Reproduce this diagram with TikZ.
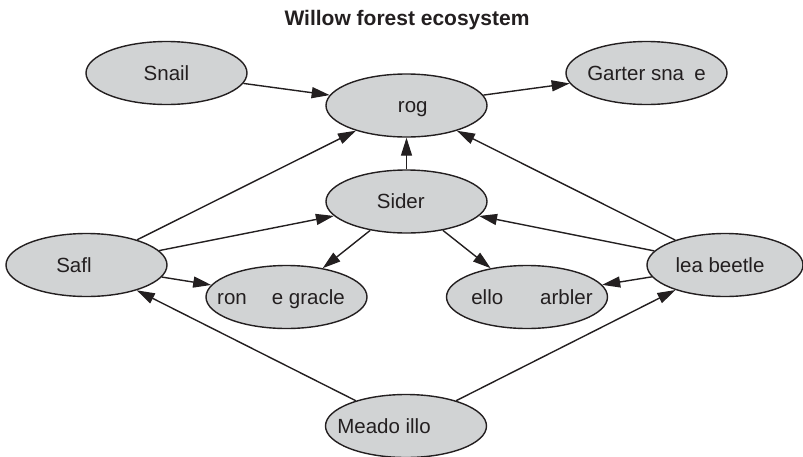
\documentclass[tikz,border=0pt]{standalone}
\usepackage{fontspec}
\setmainfont{Liberation Sans}
\usetikzlibrary{shapes.geometric,arrows.meta}
\definecolor{inkc}{HTML}{231F20}
\definecolor{nodefill}{HTML}{D1D3D4}
% zero-width label box, so the text never widens an ellipse
\newcommand\ecotext[1]{\makebox[0pt]{#1}}
\begin{document}
\begin{tikzpicture}[x=1pt,y=-1pt,
  species/.style={ellipse, draw=inkc, fill=nodefill, line width=1.4pt,
    minimum width=161pt, minimum height=63pt, inner sep=0pt,
    text height=14pt, text depth=0pt, text=inkc,
    font=\fontsize{20.5}{24}\selectfont},
  feeds/.style={draw=inkc, line width=1.4pt,
    -{Triangle[length=18pt,width=11pt]}}]
\useasboundingbox (0,0) rectangle (803,456);

\node[font=\bfseries\fontsize{21}{25}\selectfont, text=inkc, anchor=base]
  (title) at (407,25) {Willow forest ecosystem};

% species
\node[species] (snail)   at (166.5,73)   {\ecotext{Snail}};
\node[species] (frog)    at (406.5,105.5) {\ecotext{\phantom{F}rog}};
\node[species] (garter)  at (646.5,73)   {\ecotext{Garter sna\phantom{k}e}};
\node[species] (spider)  at (406.5,201.5) {\ecotext{Sider\phantom{p}}};
\node[species] (sawfly)  at (86.5,265)   {\ecotext{Safl\phantom{wy}}};
\node[species, minimum width=156pt] (leaf) at (725,265) {\ecotext{lea beetle\kern10pt}};
\node[species] (grackle) at (286.5,297)  {\ecotext{ron\hspace{25pt}e gracle\kern11pt}};
\node[species] (warbler) at (527,297)    {\ecotext{\kern10pt ello\hspace{37pt}arbler}};
\node[species] (willow)  at (406,426)    {\ecotext{Meado illo\kern44pt}};

% who eats whom
\draw[feeds] (snail)  -- (frog);
\draw[feeds] (frog)   -- (garter);
\draw[feeds] (sawfly) -- (frog);
\draw[feeds] (sawfly) -- (spider);
\draw[feeds] (sawfly) -- (grackle);
\draw[feeds] (spider) -- (frog);
\draw[feeds] (spider) -- (grackle);
\draw[feeds] (spider) -- (warbler);
\draw[feeds] (leaf)   -- (frog);
\draw[feeds] (leaf)   -- (spider);
\draw[feeds] (leaf)   -- (warbler);
\draw[feeds] (willow) -- (sawfly);
\draw[feeds] (willow) -- (leaf);
\end{tikzpicture}
\end{document}
